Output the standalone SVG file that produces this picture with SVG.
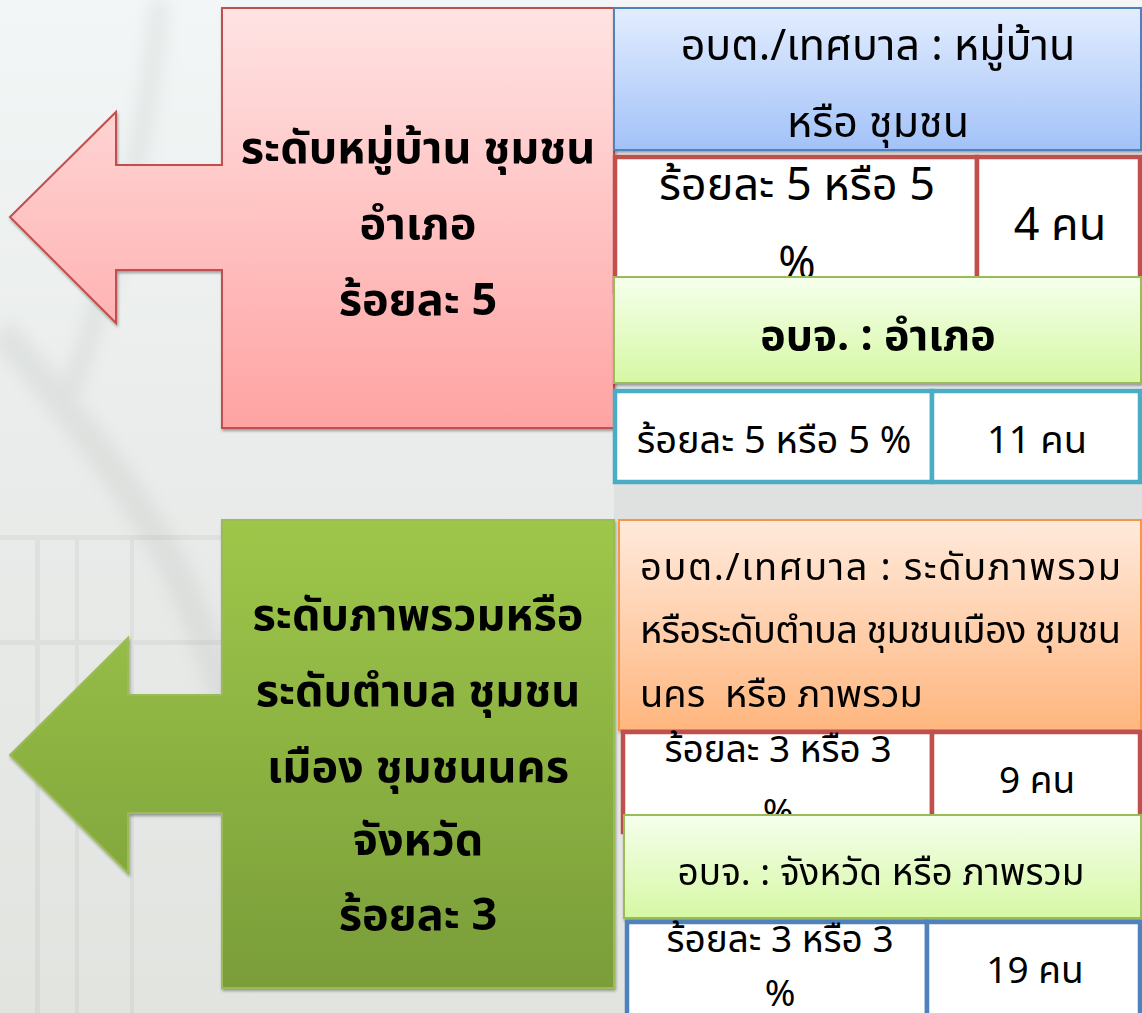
<svg xmlns="http://www.w3.org/2000/svg" width="1142" height="1013" viewBox="0 0 1142 1013">
<defs>
<linearGradient id="bg" x1="0" y1="0" x2="0" y2="1"><stop offset="0" stop-color="#f2f6f6"/><stop offset="0.45" stop-color="#e9ecea"/><stop offset="1" stop-color="#e2e4e0"/></linearGradient>
<linearGradient id="gPink" x1="0" y1="0" x2="0" y2="1"><stop offset="0" stop-color="#ffe3e3"/><stop offset="1" stop-color="#ffa3a3"/></linearGradient>
<linearGradient id="gGreen" x1="0" y1="0" x2="0" y2="1"><stop offset="0" stop-color="#9ec74a"/><stop offset="1" stop-color="#7a9d39"/></linearGradient>
<linearGradient id="gBlue" x1="0" y1="0" x2="0" y2="1"><stop offset="0" stop-color="#e3edff"/><stop offset="1" stop-color="#a2c2f8"/></linearGradient>
<linearGradient id="gLime" x1="0" y1="0" x2="0" y2="1"><stop offset="0" stop-color="#f5ffec"/><stop offset="1" stop-color="#d6f8a4"/></linearGradient>
<linearGradient id="gOrange" x1="0" y1="0" x2="0" y2="1"><stop offset="0" stop-color="#ffeadc"/><stop offset="1" stop-color="#ffb67e"/></linearGradient>
<filter id="sh" x="-5%" y="-5%" width="110%" height="110%"><feDropShadow dx="1" dy="2" stdDeviation="1.5" flood-color="#000" flood-opacity="0.35"/></filter>
<filter id="blur" x="-20%" y="-20%" width="140%" height="140%"><feGaussianBlur stdDeviation="8"/></filter>
</defs>
<style>
text{font-family:"Noto Sans Thai","Noto Sans Thai Looped",Tahoma,"Noto Sans","DejaVu Sans",sans-serif;fill:#000}
.big{font-size:45px;font-weight:bold;text-anchor:middle}
.t43{font-size:43px;text-anchor:middle}
.t45{font-size:45px;text-anchor:middle}
.t38{font-size:38px;text-anchor:middle}
.t37{font-size:37px;text-anchor:middle}
.t38l{font-size:38px}
.cellR{fill:#fff;stroke:#c0504d;stroke-width:4.5}
.cellC{fill:#fff;stroke:#4bacc6;stroke-width:4.5}
.cellB{fill:#fff;stroke:#4f81bd;stroke-width:4.5}
</style>
<rect x="0" y="0" width="1142" height="1013" fill="url(#bg)"/>
<g opacity="0.12" fill="none" stroke="#8a8e88" filter="url(#blur)">
<path d="M0,330 C60,400 120,470 170,560 C200,620 230,700 250,800" stroke-width="30"/>
<path d="M160,0 C150,120 120,260 60,420" stroke-width="20"/>
</g>
<g opacity="0.10" fill="#8a8e88">
<rect x="0" y="535" width="222" height="5"/>
<rect x="0" y="640" width="222" height="5"/>
<rect x="35" y="540" width="5" height="473"/>
<rect x="75" y="540" width="4" height="473"/>
<rect x="130" y="540" width="4" height="473"/>
<rect x="614" y="484" width="528" height="36"/>
</g>
<g id="arrow-village" filter="url(#sh)">
<path d="M222,8 H614 V428 H222 V270 H116 V323 L10,217 L116,112 V165 H222 Z" fill="url(#gPink)" stroke="#c0504d" stroke-width="2"/>
<text class="big" x="418" y="163">ระดับหมู่บ้าน ชุมชน</text>
<text class="big" x="418" y="239">อำเภอ</text>
<text class="big" x="418" y="315">ร้อยละ 5</text>
</g>
<g id="arrow-overall" filter="url(#sh)">
<path d="M222,520 H614 V988 H222 V813 H128 V873 L10,755 L128,638 V695 H222 Z" fill="url(#gGreen)" stroke="#9bbb59" stroke-width="2"/>
<text class="big" x="418" y="630">ระดับภาพรวมหรือ</text>
<text class="big" x="418" y="706">ระดับตำบล ชุมชน</text>
<text class="big" x="418" y="782">เมือง ชุมชนนคร</text>
<text class="big" x="418" y="855">จังหวัด</text>
<text class="big" x="418" y="930">ร้อยละ 3</text>
</g>
<g id="connectors"/>
<g id="box-sao-village" filter="url(#sh)">
<rect x="614" y="8" width="527" height="142" fill="url(#gBlue)" stroke="#4f81bd" stroke-width="2"/>
<text class="t43" x="878" y="60">อบต./เทศบาล : หมู่บ้าน</text>
<text class="t43" x="878" y="137">หรือ ชุมชน</text>
</g>
<g id="row-village">
<rect class="cellR" x="615" y="157" width="362" height="135"/>
<rect class="cellR" x="977" y="157" width="163" height="135"/>
<text class="t45" x="797" y="200">ร้อยละ 5 หรือ 5</text>
<text class="t45" x="797" y="279">%</text>
<text class="t45" x="1060" y="240">4 คน</text>
</g>
<g id="box-pao-district" filter="url(#sh)">
<rect x="614" y="277" width="527" height="106" fill="url(#gLime)" stroke="#9bbb59" stroke-width="2"/>
<text class="t43" x="878" y="350" font-weight="bold">อบจ. : อำเภอ</text>
</g>
<g id="row-district">
<rect class="cellC" x="615" y="391" width="317" height="91"/>
<rect class="cellC" x="932" y="391" width="208" height="91"/>
<text class="t38" x="774" y="453">ร้อยละ 5 หรือ 5 %</text>
<text class="t38" x="1037" y="453">11 คน</text>
</g>
<g id="box-sao-overall" filter="url(#sh)">
<rect x="619" y="520" width="522" height="210" fill="url(#gOrange)" stroke="#f79646" stroke-width="2"/>
<text class="t38l" x="640" y="580" textLength="481" lengthAdjust="spacing">อบต./เทศบาล : ระดับภาพรวม</text>
<text class="t38l" x="640" y="643" textLength="481" lengthAdjust="spacing">หรือระดับตำบล ชุมชนเมือง ชุมชน</text>
<text class="t38l" x="640" y="707" xml:space="preserve">นคร  หรือ ภาพรวม</text>
</g>
<g id="row-overall">
<rect class="cellR" x="623" y="732" width="309" height="100"/>
<rect class="cellR" x="932" y="732" width="208" height="100"/>
<text class="t37" x="778" y="762">ร้อยละ 3 หรือ 3</text>
<text class="t37" x="778" y="825">%</text>
<text class="t37" x="1037" y="793">9 คน</text>
</g>
<g id="box-pao-province" filter="url(#sh)">
<rect x="624" y="815" width="517" height="103" fill="url(#gLime)" stroke="#9bbb59" stroke-width="2"/>
<text class="t37" x="881" y="885">อบจ. : จังหวัด หรือ ภาพรวม</text>
</g>
<g id="row-province">
<rect class="cellB" x="627" y="922" width="300" height="100"/>
<rect class="cellB" x="927" y="922" width="213" height="100"/>
<text class="t37" x="780" y="952">ร้อยละ 3 หรือ 3</text>
<text class="t37" x="780" y="1006">%</text>
<text class="t37" x="1035" y="983">19 คน</text>
</g>
</svg>
